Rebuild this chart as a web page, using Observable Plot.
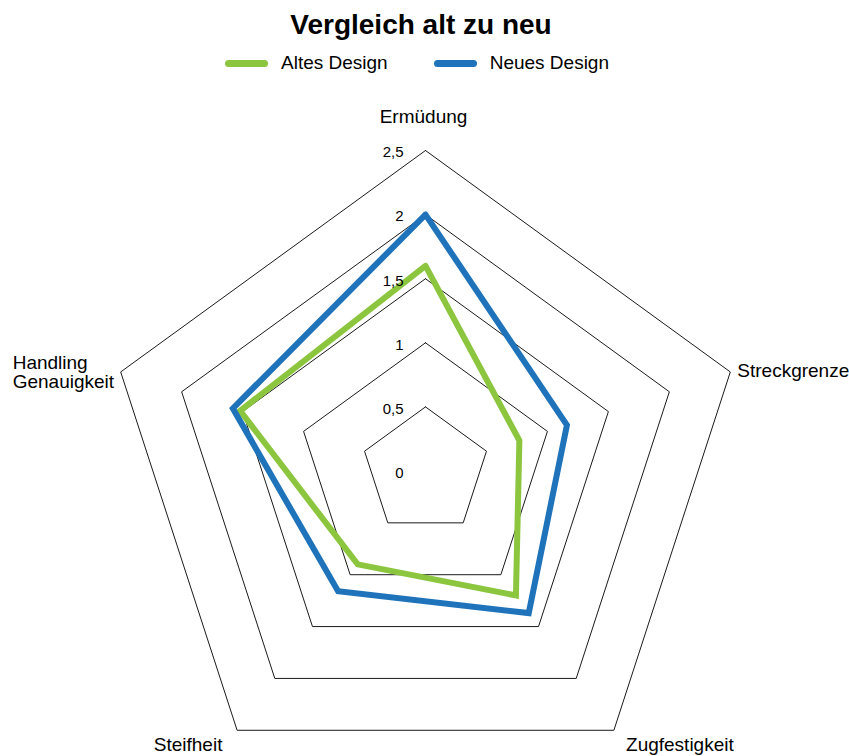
<!DOCTYPE html>
<html>
<head>
<meta charset="utf-8">
<script src="https://cdn.jsdelivr.net/npm/d3@7"></script>
<script src="https://cdn.jsdelivr.net/npm/@observablehq/plot@0.6"></script>
<style>
  body { margin: 0; background: #fff; font-family: "Liberation Sans", Arial, sans-serif; }
  #wrap { width: 849px; }
  #title { height: 50px; line-height: 50px; text-align: center; font-weight: bold; font-size: 28px; color: #000; padding-right: 7px; box-sizing: border-box; }
  #legend { height: 40px; display: flex; justify-content: center; align-items: flex-start; padding-right: 15px; box-sizing: border-box; font-size: 19px; color: #000; }
  .item { display: flex; align-items: center; height: 26px; }
  .item + .item { margin-left: 46px; }
  .sw { display: inline-block; width: 43px; height: 7px; border-radius: 3.5px; margin-right: 13px; }
  g[aria-label="series"] path { filter: drop-shadow(1.5px 2px 1.5px rgba(0,0,0,0.3)); }
</style>
</head>
<body>
<div id="wrap">
  <div id="title"></div>
  <div id="legend"></div>
  <div id="chart"></div>
</div>
<script>
// ---- data ----
const title = "Vergleich alt zu neu";
const axes = ["Ermüdung", "Streckgrenze", "Zugfestigkeit", "Steifheit", "Handling\nGenauigkeit"];
const seriesNames = ["Altes Design", "Neues Design"];
const altesDesign = [1.6, 0.77, 1.2, 0.9, 1.52];
const neuesDesign = [2.0, 1.16, 1.37, 1.16, 1.58];
const ticks = [0, 0.5, 1, 1.5, 2, 2.5];
const tickLabels = ["0", "0,5", "1", "1,5", "2", "2,5"];
const colors = ["#8CC63F", "#1F73BA"];

// ---- header ----
document.getElementById("title").textContent = title;
const legend = document.getElementById("legend");
seriesNames.forEach((name, i) => {
  const it = document.createElement("div");
  it.className = "item";
  const sw = document.createElement("span");
  sw.className = "sw";
  sw.style.background = colors[i];
  it.appendChild(sw);
  it.appendChild(document.createTextNode(name));
  legend.appendChild(it);
});

// ---- geometry (layout) ----
const W = 849, H = 666;
const k = 128.2;          // px per unit
const cx = 425, cy = 380.5; // centre in svg px
const n = axes.length;
const ang = i => Math.PI / 2 - i * 2 * Math.PI / n;
const px = (r, i) => r * Math.cos(ang(i));
const py = (r, i) => r * Math.sin(ang(i));
const maxTick = ticks[ticks.length - 1];

// grid rings
const gridData = [];
ticks.filter(t => t > 0).forEach(t => {
  for (let i = 0; i <= n; i++) gridData.push({level: t, x: px(t, i % n), y: py(t, i % n)});
});

// series polygons
const seriesValues = [altesDesign, neuesDesign];
const seriesData = [];
seriesValues.forEach((vals, s) => {
  for (let i = 0; i <= n; i++) seriesData.push({series: seriesNames[s], x: px(vals[i % n], i % n), y: py(vals[i % n], i % n)});
});

// tick labels
const tickData = ticks.map((t, i) => ({v: t, label: tickLabels[i]}));

// axis labels (style offsets)
const labelStyle = [
  {dx: -2, dy: -34, anchor: "middle"},
  {dx: 7, dy: -1, anchor: "start"},
  {dx: 66, dy: 15, anchor: "middle"},
  {dx: -49, dy: 15, anchor: "middle"},
  {dx: -108, dy: 0, anchor: "start"}
];

const marks = [
  Plot.line(gridData, {x: "x", y: "y", z: "level", stroke: "#1a1a1a", strokeWidth: 1}),
  Plot.line(seriesData, {x: "x", y: "y", z: "series", stroke: "series", strokeWidth: 6, strokeLinejoin: "miter", strokeMiterlimit: 10, ariaLabel: "series"}),
  Plot.text(tickData, {x: () => 0, y: d => d.v, text: "label", textAnchor: "end", dx: -22, dy: 2, fontSize: 15, fill: "#000"})
];
axes.forEach((a, i) => {
  const st = labelStyle[i];
  marks.push(Plot.text([a], {
    x: () => px(maxTick, i), y: () => py(maxTick, i), text: d => d,
    textAnchor: st.anchor, dx: st.dx, dy: st.dy, fontSize: 19, lineHeight: 1, fill: "#000"
  }));
});

const chart = Plot.plot({
  width: W, height: H,
  margin: 0,
  x: {domain: [-cx / k, (W - cx) / k], range: [0, W], axis: null},
  y: {domain: [-(H - cy) / k, cy / k], range: [H, 0], axis: null},
  color: {domain: seriesNames, range: colors},
  style: {fontFamily: "'Liberation Sans', Arial, sans-serif", background: "#fff", overflow: "visible"},
  marks
});
document.getElementById("chart").appendChild(chart);
</script>
</body>
</html>
